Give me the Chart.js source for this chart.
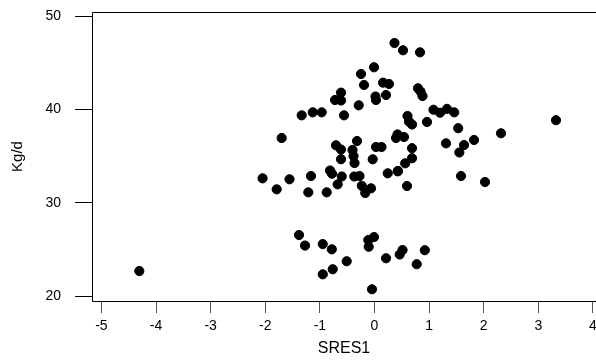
<!DOCTYPE html>
<html>
<head>
<meta charset="utf-8">
<script src="https://cdn.jsdelivr.net/npm/chart.js@4/dist/chart.umd.min.js"></script>
<style>
  html, body { margin: 0; padding: 0; background: #fff; overflow: hidden; }
</style>
</head>
<body>
<canvas id="scatter" width="596" height="360"></canvas>
<script>
// standardized residuals vs. daily intake
const sres1 = [
    0.366, 0.522, 0.833, -0.009, -0.247, -0.192, 0.156, 0.265, -0.613, -0.723,
    -0.613, 0.018, 0.027, 0.211, -0.289, -1.333, -1.131, -0.967, -0.558, 0.796,
    0.842, 0.879, 0.604, 0.632, 0.687, 0.961, 1.080, 1.199, 1.327, 1.459,
    1.532, 3.323, 2.316,
    -1.699, -0.320, -0.705, -0.613, -0.403, -0.384, -0.366, -0.613, 0.027, 0.128,
    -0.033, 0.421, 0.394, 0.540, 0.687, 0.687, 0.562, 0.430, 1.309, 1.639,
    1.553, 1.822, 1.584, 2.023, 0.595, -2.049, -1.791, -1.556, -1.163, -1.212,
    -0.875, -0.815, -0.778, -0.600, -0.674, -0.370, -0.275, -0.233, -0.064, -0.170,
    0.242, 0.425,
    -1.382, -1.272, -0.947, -0.782, -0.509, -0.947, -0.765, -0.114, -0.009, -0.106,
    -0.046, 0.211, 0.461, 0.513, 0.773, 0.921, -4.306
];
const kgPerDay = [
    47.14, 46.36, 46.14, 44.54, 43.82, 42.64, 42.89, 42.75, 41.82, 41.03,
    40.98, 41.41, 41.03, 41.57, 40.46, 39.39, 39.71, 39.71, 39.39, 42.29,
    41.94, 41.46, 39.32, 38.71, 38.41, 38.68, 39.99, 39.67, 40.08, 39.71,
    38.01, 38.87, 37.47,
    36.96, 36.64, 36.18, 35.73, 35.68, 35.03, 34.28, 34.69, 36.00, 36.00,
    34.68, 37.34, 36.96, 37.07, 35.87, 34.80, 34.25, 33.43, 36.39, 36.21,
    35.41, 36.75, 32.89, 32.25, 31.82, 32.64, 31.46, 32.54, 32.89, 31.14,
    31.14, 33.48, 33.13, 32.84, 32.00, 32.84, 32.89, 31.84, 31.57, 31.07,
    33.18, 33.39,
    26.57, 25.44, 25.60, 25.04, 23.76, 22.36, 22.90, 26.03, 26.35, 25.31,
    20.76, 24.08, 24.48, 24.96, 23.44, 24.94, 22.71
];

const xTicks = [-5, -4, -3, -2, -1, 0, 1, 2, 3, 4];
const yTicks = [20, 30, 40, 50];

const points = sres1.map((x, i) => ({ x: x, y: kgPerDay[i] }));

//----------------------------------
// R-style frame: left, top and bottom lines around the plot region
const frame = {
    id: 'frame',
    afterDraw(chart) {
        const { ctx, chartArea: a } = chart;
        ctx.save();
        ctx.strokeStyle = '#000';
        ctx.lineWidth = 1;
        ctx.beginPath();
        ctx.moveTo(a.right + 1, Math.round(a.top) + 0.5);
        ctx.lineTo(Math.round(a.left) + 0.5, Math.round(a.top) + 0.5);
        ctx.lineTo(Math.round(a.left) + 0.5, Math.round(a.bottom) + 0.5);
        ctx.lineTo(a.right + 1, Math.round(a.bottom) + 0.5);
        ctx.stroke();
        ctx.restore();
    }
};

const tickFont = { family: '"Liberation Sans", Arial, sans-serif', size: 14 };

new Chart(document.getElementById('scatter').getContext('2d'), {
    type: 'scatter',
    data: {
        datasets: [{
            data: points,
            backgroundColor: '#000',
            borderColor: '#000',
            pointRadius: 4.6,
            pointHoverRadius: 4.6,
        }]
    },
    options: {
        responsive: false,
        animation: false,
        layout: {
            autoPadding: false,
            padding: { top: 12, right: 0, left: 0, bottom: 0 },
        },
        plugins: {
            legend: { display: false },
            tooltip: { enabled: false },
        },
        scales: {
            x: {
                type: 'linear',
                min: -5.172,
                max: 4.055,
                afterBuildTicks: s => { s.ticks = xTicks.map(v => ({ value: v })); },
                afterFit: s => {
                    s.height = 59;
                    s.paddingLeft = 0;
                    s.paddingRight = 0;
                },
                border: { display: false },
                grid: {
                    drawOnChartArea: false,
                    tickLength: 12,
                    tickColor: '#555',
                    tickWidth: 1,
                },
                ticks: {
                    color: '#000',
                    font: tickFont,
                    padding: 5,
                    maxRotation: 0,
                    autoSkip: false,
                },
                title: {
                    display: true,
                    text: 'SRES1',
                    color: '#000',
                    font: { family: '"Liberation Sans", Arial, sans-serif', size: 16 },
                    padding: { top: 0, bottom: 2 },
                },
            },
            y: {
                type: 'linear',
                min: 19.50,
                max: 50.46,
                afterBuildTicks: s => { s.ticks = yTicks.map(v => ({ value: v })); },
                afterFit: s => {
                    s.width = 92;
                    s.paddingTop = 0;
                    s.paddingBottom = 0;
                },
                border: { display: false },
                grid: {
                    drawOnChartArea: false,
                    tickLength: 17,
                    tickColor: '#000',
                    tickWidth: 1,
                },
                ticks: {
                    color: '#000',
                    font: tickFont,
                    padding: 14,
                    autoSkip: false,
                },
                title: {
                    display: true,
                    text: 'Kg/d',
                    color: '#000',
                    font: { family: '"Liberation Sans", Arial, sans-serif', size: 15 },
                    padding: { top: 9, bottom: 0 },
                },
            },
        },
    },
    plugins: [frame],
});
</script>
</body>
</html>
